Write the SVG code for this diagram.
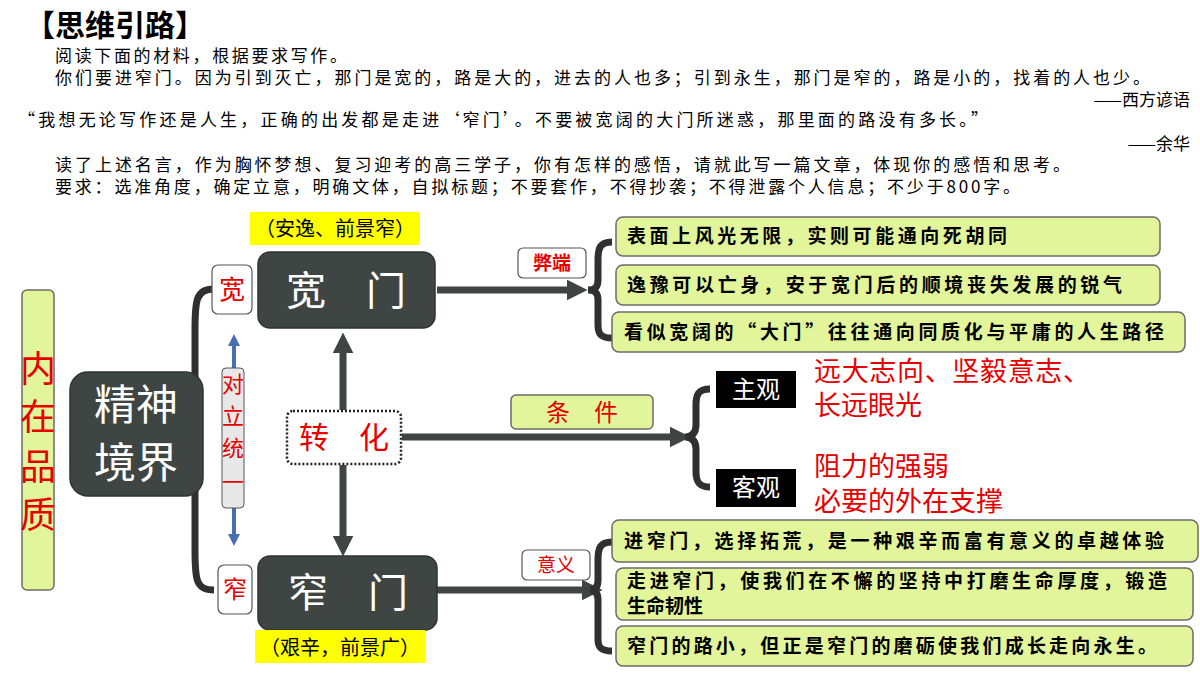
<svg xmlns="http://www.w3.org/2000/svg" width="1200" height="675" viewBox="0 0 1200 675">
<defs>
<style>
text{font-family:"Noto Sans CJK SC","Liberation Serif",serif}
.p{font-size:17px;fill:#000}
.g{fill:#e2f59b;stroke:#6b6b6b;stroke-width:1.5}
.gt{font-size:19px;font-weight:bold;fill:#000}
.dk{fill:#3e4543;stroke:#2e3432;stroke-width:1.5}
.wt{fill:#fff}
.rd{fill:#e60000}
.wb{fill:#fff;stroke:#555;stroke-width:1.2}
.br{fill:none;stroke:#303030;stroke-width:7}
.ar{stroke:#3e4543;stroke-width:7;fill:none}
</style>
<marker id="ah" markerWidth="3" markerHeight="3" refX="1.2" refY="1.5" orient="auto" markerUnits="strokeWidth"><path d="M0,0L3,1.5L0,3z" fill="#3e4543"/></marker>
<marker id="bh" markerWidth="3" markerHeight="3" refX="1.5" refY="1.5" orient="auto-start-reverse" markerUnits="strokeWidth"><path d="M0,0L3,1.5L0,3z" fill="#4a6fb0"/></marker>
</defs>
<g id="header">
<text x="25" y="36" font-size="30" font-weight="bold">【思维引路】</text>
<text class="p" x="55" y="62" textLength="292" lengthAdjust="spacing">阅读下面的材料，根据要求写作。</text>
<text class="p" x="55" y="84" textLength="1095" lengthAdjust="spacing">你们要进窄门。因为引到灭亡，那门是宽的，路是大的，进去的人也多；引到永生，那门是窄的，路是小的，找着的人也少。</text>
<text class="p" x="1190" y="106" text-anchor="end">——西方谚语</text>
<text class="p" x="18" y="126" textLength="970" lengthAdjust="spacing">“我想无论写作还是人生，正确的出发都是走进‘窄门’。不要被宽阔的大门所迷惑，那里面的路没有多长。”</text>
<text class="p" x="1190" y="150" text-anchor="end">——余华</text>
<text class="p" x="55" y="171" textLength="1015" lengthAdjust="spacing">读了上述名言，作为胸怀梦想、复习迎考的高三学子，你有怎样的感悟，请就此写一篇文章，体现你的感悟和思考。</text>
<text class="p" x="55" y="193" textLength="965" lengthAdjust="spacing">要求：选准角度，确定立意，明确文体，自拟标题；不要套作，不得抄袭；不得泄露个人信息；不少于800字。</text>
</g>
<g id="connectors">
<path class="br" d="M214,289 C196,289 195,300 195,330 L195,410 C195,432 188,440 178,440 C188,440 195,448 195,470 L195,550 C195,580 196,590 214,590"/>
<line x1="234" y1="340" x2="234" y2="540" stroke="#4a6fb0" stroke-width="4" marker-start="url(#bh)" marker-end="url(#bh)"/>
<line class="ar" x1="343" y1="410" x2="343" y2="345" marker-end="url(#ah)"/>
<line class="ar" x1="343" y1="465" x2="343" y2="544" marker-end="url(#ah)"/>
<line class="ar" x1="402" y1="437" x2="678" y2="437" marker-end="url(#ah)"/>
<line class="ar" x1="437" y1="290" x2="575" y2="290" marker-end="url(#ah)"/>
<line class="ar" x1="437" y1="590" x2="590" y2="590" marker-end="url(#ah)"/>
<path class="br" d="M612,242 C600,242 598,248 598,260 L598,280 C598,287 595,290 588,290 C595,290 598,293 598,300 L598,325 C598,335 602,338 612,338"/>
<path class="br" d="M710,389 C698,389 696,395 696,405 L696,425 C696,433 692,437 685,437 C692,437 696,441 696,449 L696,472 C696,483 700,487 710,487"/>
<path class="br" d="M612,542 C600,542 598,548 598,560 L598,580 C598,587 595,590 590,590 C595,590 598,593 598,600 L598,640 C598,648 602,651 612,651"/>
</g>
<g id="neizai"><rect x="22" y="290" width="32" height="300" rx="5" class="g"/>
<text class="rd" font-size="36" x="38" y="382" text-anchor="middle">内</text>
<text class="rd" font-size="36" x="38" y="430" text-anchor="middle">在</text>
<text class="rd" font-size="36" x="38" y="480" text-anchor="middle">品</text>
<text class="rd" font-size="36" x="38" y="528" text-anchor="middle">质</text></g>
<g id="jingshen"><rect x="70" y="372" width="133" height="124" rx="18" class="dk"/>
<text class="wt" font-size="42" x="136" y="420" text-anchor="middle">精神</text>
<text class="wt" font-size="42" x="136" y="478" text-anchor="middle">境界</text></g>
<g id="kuan"><rect x="212" y="265" width="40" height="49" rx="6" class="wb"/><text class="rd" font-size="26" x="232" y="299" text-anchor="middle">宽</text></g>
<g id="zhai"><rect x="218" y="565" width="34" height="49" rx="6" class="wb"/><text class="rd" font-size="24" x="235" y="598" text-anchor="middle">窄</text></g>
<g id="duili"><rect x="222" y="368" width="22" height="140" rx="4" fill="#e8e8e8" stroke="#555"/>
<text class="rd" font-size="22" x="233" y="392" text-anchor="middle">对</text>
<text class="rd" font-size="22" x="233" y="424" text-anchor="middle">立</text>
<text class="rd" font-size="22" x="233" y="456" text-anchor="middle">统</text>
<text class="rd" font-size="22" x="233" y="490" text-anchor="middle">一</text></g>
<g id="anyi"><rect x="250" y="212" width="170" height="33" fill="#ffff00"/><text font-size="20" x="335" y="236" text-anchor="middle">（安逸、前景窄）</text></g>
<g id="kuanmen"><rect x="258" y="252" width="177" height="76" rx="12" class="dk"/><text class="wt" font-size="40" x="346" y="305" text-anchor="middle">宽　门</text></g>
<g id="zhaimen"><rect x="258" y="556" width="179" height="74" rx="12" class="dk"/><text class="wt" font-size="40" x="348" y="607" text-anchor="middle">窄　门</text></g>
<g id="jianxin"><rect x="255" y="630" width="170" height="33" fill="#ffff00"/><text font-size="20" x="340" y="655" text-anchor="middle">（艰辛，前景广）</text></g>
<g id="zhuanhua"><rect x="287" y="411" width="114" height="53" rx="6" fill="#fff" stroke="#222" stroke-width="2.5" stroke-dasharray="2 2"/><text class="rd" font-size="30" x="344" y="448" text-anchor="middle">转　化</text></g>
<g id="tiaojian"><rect x="511" y="395" width="142" height="34" rx="5" class="g"/><text class="rd" font-size="24" x="582" y="421" text-anchor="middle">条　件</text></g>
<g id="zhuguan"><rect x="716" y="371" width="80" height="37" fill="#000"/><text class="wt" font-size="24" x="756" y="398" text-anchor="middle">主观</text></g>
<g id="keguan"><rect x="716" y="469" width="80" height="38" fill="#000"/><text class="wt" font-size="24" x="756" y="496" text-anchor="middle">客观</text></g>
<g id="zg-text"><text class="rd" font-size="27" x="814" y="381" textLength="276" lengthAdjust="spacing">远大志向、坚毅意志、</text><text class="rd" font-size="27" x="814" y="415">长远眼光</text></g>
<g id="kg-text"><text class="rd" font-size="27" x="814" y="476">阻力的强弱</text><text class="rd" font-size="27" x="814" y="511">必要的外在支撑</text></g>
<g id="biduan"><rect x="518" y="248" width="68" height="30" rx="5" class="wb"/><text class="rd" font-size="19" x="552" y="270" text-anchor="middle" font-weight="bold">弊端</text></g>
<g id="yiyi"><rect x="522" y="550" width="68" height="30" rx="5" class="wb"/><text class="rd" font-size="19" x="556" y="572" text-anchor="middle">意义</text></g>
<g id="b1"><rect x="616" y="217" width="544" height="39" rx="7" class="g"/><text class="gt" x="627" y="243" textLength="380" lengthAdjust="spacing">表面上风光无限，实则可能通向死胡同</text></g>
<g id="b2"><rect x="616" y="265" width="544" height="40" rx="7" class="g"/><text class="gt" x="627" y="292" textLength="495" lengthAdjust="spacing">逸豫可以亡身，安于宽门后的顺境丧失发展的锐气</text></g>
<g id="b3"><rect x="612" y="312" width="573" height="40" rx="7" class="g"/><text class="gt" x="624" y="339" textLength="540" lengthAdjust="spacing">看似宽阔的“大门”往往通向同质化与平庸的人生路径</text></g>
<g id="b4"><rect x="612" y="520" width="586" height="42" rx="7" class="g"/><text class="gt" x="624" y="548" textLength="540" lengthAdjust="spacing">进窄门，选择拓荒，是一种艰辛而富有意义的卓越体验</text></g>
<g id="b5"><rect x="616" y="568" width="577" height="52" rx="7" class="g"/><text class="gt" x="627" y="588" textLength="540" lengthAdjust="spacing">走进窄门，使我们在不懈的坚持中打磨生命厚度，锻造</text><text class="gt" x="627" y="613">生命韧性</text></g>
<g id="b6"><rect x="616" y="626" width="577" height="40" rx="7" class="g"/><text class="gt" x="627" y="653" textLength="530" lengthAdjust="spacing">窄门的路小，但正是窄门的磨砺使我们成长走向永生。</text></g>
</svg>
